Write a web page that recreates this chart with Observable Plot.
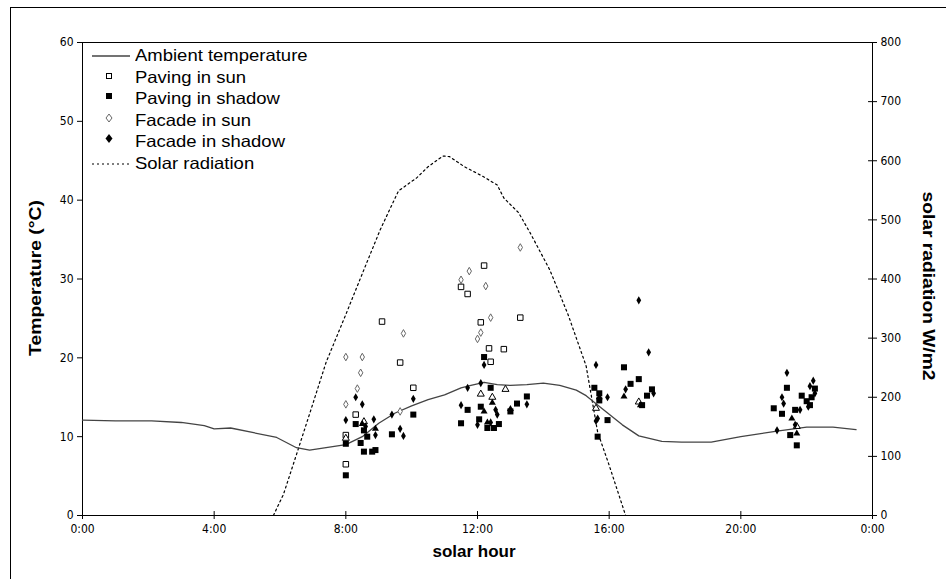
<!DOCTYPE html>
<html><head><meta charset="utf-8">
<script src="https://cdn.jsdelivr.net/npm/d3@7"></script>
<script src="https://cdn.jsdelivr.net/npm/@observablehq/plot@0.6"></script>
<style>
body{margin:0;background:#fff;font-family:"Liberation Sans",Arial,sans-serif;}
#wrap{position:relative;width:946px;height:579px;overflow:hidden;background:#fff;}
#border{position:absolute;left:10px;top:7px;width:1000px;height:1000px;border-left:1px solid #000;border-top:1px solid #000;}
#chart{position:absolute;left:0;top:0;}
.title{position:absolute;font-weight:bold;font-size:17px;color:#000;white-space:nowrap;}
#legend{position:absolute;left:90px;top:45px;font-size:16.5px;}
.row{position:relative;height:21.5px;line-height:21.5px;}
.row svg{position:absolute;left:0;top:0;}
.row span{position:absolute;left:45px;top:0;white-space:nowrap;transform:scaleX(1.12);transform-origin:0 50%;}
</style>
</head><body>
<div id="wrap">
<div id="border"></div>
<div id="chart"></div>
<div class="title" id="ytitle" style="left:36px;top:278px;transform:translate(-50%,-50%) rotate(-90deg) scaleX(1.14);">Temperature (°C)</div>
<div class="title" id="y2title" style="left:928px;top:286px;transform:translate(-50%,-50%) rotate(90deg) scaleX(1.13);">solar radiation W/m2</div>
<div class="title" style="left:474px;top:552px;transform:translate(-50%,-50%);font-size:17px;">solar hour</div>
<div id="legend"></div>
</div>
<script>
// ---- data ----
const ambientHour = [0,1,2.1,3,3.7,4,4.5,5.2,5.9,6.5,6.9,7.4,8,8.5,9,9.5,10,10.5,11,11.5,11.8,12.2,12.6,13,13.5,14,14.5,15,15.3,15.8,16.4,16.9,17.6,18.2,19.1,20,21.1,22,22.8,23.5];
const ambientTemp = [12.1,12.0,12.0,11.8,11.4,11.0,11.1,10.5,9.9,8.6,8.3,8.6,9.0,10.0,11.7,13.0,13.9,14.7,15.3,16.2,16.5,16.9,16.6,16.5,16.6,16.8,16.5,15.9,15.2,13.5,11.5,10.1,9.4,9.3,9.3,10.0,10.7,11.2,11.2,10.9];

const solarHour = [5.5,5.8,6.1,6.5,6.9,7.4,8,8.5,9.05,9.6,10.15,10.5,10.95,11.15,11.6,12.15,12.6,12.8,13.25,13.6,14.2,14.75,15.3,15.65,16,16.5];
const solarRad  = [0,0,35,103,172,259,340,409,484,549,571,590,608,607,590,574,559,537,512,478,415,340,253,141,85,0];

const pavingSun = [[8.0,6.5],[8.0,10.2],[8.3,12.8],[9.1,24.6],[9.65,19.4],[10.05,16.2],[11.5,29.0],[11.7,28.1],[12.2,31.7],[12.1,24.5],[12.35,21.2],[12.4,19.5],[12.8,21.1],[13.3,25.1]];
const pavingShadow = [[8.0,5.1],[8.0,9.1],[8.3,11.6],[8.45,9.2],[8.55,10.8],[8.65,10.0],[8.55,8.1],[8.8,8.1],[8.9,8.3],[9.4,10.3],[10.05,12.8],
  [11.5,11.7],[11.7,13.4],[12.05,12.2],[12.1,13.8],[12.2,20.1],[12.4,16.2],[12.3,11.1],[12.5,11.1],[12.65,11.6],[13.2,14.2],[13.0,13.2],[13.5,15.1],
  [15.55,16.2],[15.7,15.5],[15.7,14.6],[15.65,10.0],[15.95,12.1],[16.45,18.8],[16.65,16.7],[16.9,17.3],[17.0,14.0],[17.15,15.2],[17.3,16.0],
  [21.0,13.6],[21.25,12.9],[21.4,16.2],[21.5,10.2],[21.7,8.9],[21.65,13.4],[21.85,15.2],[22.0,14.5],[22.1,14.0],[22.25,16.1],[22.15,15.0]];
const facadeSun = [[8.0,20.1],[8.5,20.1],[8.45,18.1],[8.35,16.1],[8.0,14.1],[9.75,23.1],[9.65,13.2],[11.5,29.9],[11.75,31.0],[12.25,29.1],[12.4,25.1],[12.1,23.2],[12.0,22.4],[13.3,34.0]];
const facadeShadow = [[8.0,12.1],[8.3,15.0],[8.5,14.1],[8.6,11.3],[8.85,12.2],[8.9,10.2],[9.4,12.8],[9.65,11.0],[9.75,10.1],[10.05,14.8],
  [11.7,16.2],[12.1,16.8],[12.2,19.1],[11.5,14.0],[12.55,13.4],[12.6,12.8],[12.0,11.5],[12.4,11.8],[13.5,14.1],
  [15.6,19.1],[16.9,27.3],[17.2,20.7],[15.95,15.0],[15.65,12.3],[16.5,16.0],[17.35,15.5],[15.6,12.0],
  [21.1,10.8],[21.4,18.1],[21.25,15.0],[21.3,14.2],[21.8,13.4],[22.1,16.4],[22.2,17.1],[22.05,13.8],[22.25,15.5],[21.65,11.5]];
const openTriangles = [[8.0,9.8],[8.55,11.9],[12.1,15.4],[12.45,15.0],[12.85,16.0],[15.6,13.6],[16.9,14.4],[21.7,11.3]];
const filledTriangles = [[8.5,11.6],[8.9,11.0],[12.45,14.3],[12.2,13.2],[12.3,11.8],[13.0,13.5],[15.7,15.0],[16.45,15.1],[16.95,14.0],[21.7,10.4],[21.55,12.3]];

const hourTicks = [0,4,8,12,16,20,24];
const tempTicks = [0,10,20,30,40,50,60];
const radTicks = [0,100,200,300,400,500,600,700,800];
const legendLabels = ["Ambient temperature","Paving in sun","Paving in shadow","Facade in sun","Facade in shadow","Solar radiation"];

// ---- chart ----
const k = 60/800; // radiation -> temperature axis
const ambient = ambientHour.map((h,i)=>({h, t: ambientTemp[i]}));
const solar = solarHour.map((h,i)=>({h, t: solarRad[i]*k}));
const tickFont = "Liberation Sans Narrow, DejaVu Sans Condensed, sans-serif";

const chart = Plot.plot({
  width: 946, height: 579,
  marginLeft: 82, marginRight: 74, marginTop: 42, marginBottom: 64,
  style: {fontFamily: tickFont, fontSize: "12px", background: "transparent"},
  x: {domain: [0,24]},
  y: {domain: [0,60]},
  marks: [
    Plot.frame({stroke: "#000"}),
    Plot.axisX(hourTicks, {tickFormat: d => `${d%24}:00`, tickSize: 4, tickPadding: 5, label: null, fontSize: 12}),
    Plot.ruleX(hourTicks, {x: d => d, y1: 0, y2: 0.5, stroke: "#000"}),
    Plot.axisY(tempTicks, {anchor: "left", tickSize: 5, tickPadding: 4, label: null, fontSize: 12}),
    Plot.axisY(radTicks.map(r => r*k), {anchor: "right", tickSize: 4, tickPadding: 4, tickFormat: d => Math.round(d/k), label: null, fontSize: 12}),
    Plot.ruleY(radTicks.map(r => r*k), {y: d => d, x1: 23.88, x2: 24, stroke: "#000"}),
    Plot.line(solar, {x: "h", y: "t", stroke: "#000", strokeWidth: 1.2, strokeDasharray: "2,3"}),
    Plot.line(ambient, {x: "h", y: "t", stroke: "#444", strokeWidth: 1.3, curve: "linear"}),
    Plot.dot(facadeSun, {x: d=>d[0], y: d=>d[1], symbol: "diamond", r: 2.3, fill: "#fff", stroke: "#666", strokeWidth: 1}),
    Plot.dot(pavingSun, {x: d=>d[0], y: d=>d[1], symbol: "square", r: 3.1, fill: "#fff", stroke: "#000", strokeWidth: 1}),
    Plot.dot(openTriangles, {x: d=>d[0], y: d=>d[1], symbol: "triangle", r: 2.6, fill: "#fff", stroke: "#000", strokeWidth: 1}),
    Plot.dot(pavingShadow, {x: d=>d[0], y: d=>d[1], symbol: "square", r: 3.4, fill: "#000", stroke: "none"}),
    Plot.dot(facadeShadow, {x: d=>d[0], y: d=>d[1], symbol: "diamond", r: 2.5, fill: "#000", stroke: "none"}),
    Plot.dot(filledTriangles, {x: d=>d[0], y: d=>d[1], symbol: "triangle", r: 2.6, fill: "#000", stroke: "none"})
  ]
});
document.getElementById("chart").appendChild(chart);

// ---- legend ----
const sym = [
  `<line x1="2" y1="11" x2="40" y2="11" stroke="#444" stroke-width="1.3"/>`,
  `<rect x="16.5" y="6.5" width="5" height="5" fill="#fff" stroke="#000"/>`,
  `<rect x="16" y="5" width="6" height="6" fill="#000"/>`,
  `<path d="M19,4 L22,8 L19,12 L16,8 Z" fill="#fff" stroke="#666"/>`,
  `<path d="M19,3 L22.5,7.5 L19,12 L15.5,7.5 Z" fill="#000"/>`,
  `<line x1="2" y1="11" x2="40" y2="11" stroke="#000" stroke-width="1.2" stroke-dasharray="2,3"/>`
];
const leg = document.getElementById("legend");
legendLabels.forEach((lab,i)=>{
  const row = document.createElement("div");
  row.className = "row";
  row.innerHTML = `<svg width="44" height="22">${sym[i]}</svg><span>${lab}</span>`;
  leg.appendChild(row);
});
</script>
</body></html>
